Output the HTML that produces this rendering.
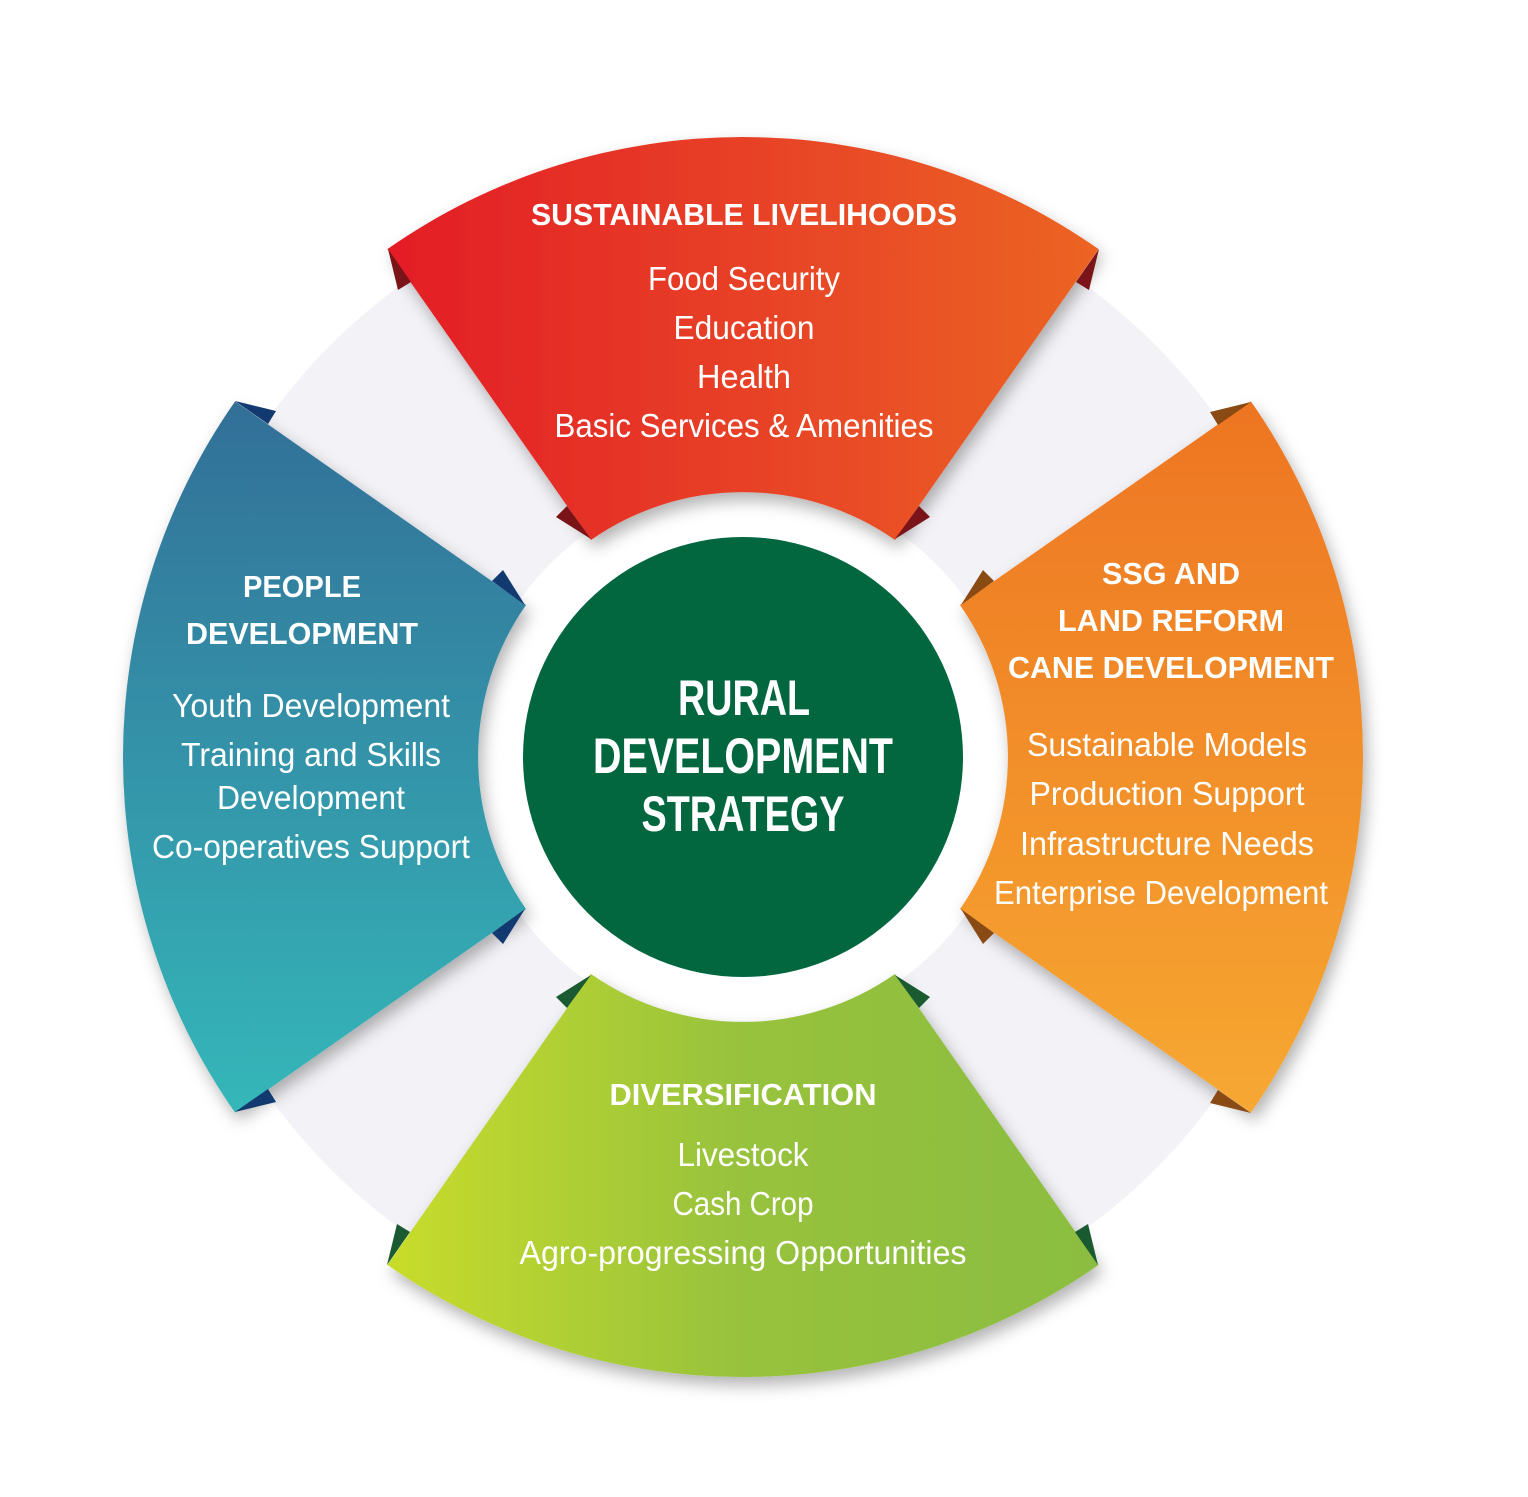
<!DOCTYPE html>
<html><head><meta charset="utf-8"><style>
html,body{margin:0;padding:0;background:#fff;}
svg{display:block;}
text{font-family:"Liberation Sans Narrow","Liberation Sans",sans-serif;fill:#fff;text-anchor:middle;}
.t{font-weight:bold;font-size:31px;}
.i{font-size:33px;}
.c{font-weight:bold;font-size:50px;}
</style></head><body>
<svg width="1528" height="1497" viewBox="0 0 1528 1497" xmlns="http://www.w3.org/2000/svg">
<defs>
<linearGradient id="gt" x1="0" y1="0" x2="1" y2="0"><stop offset="0" stop-color="#e31d27"/><stop offset="1" stop-color="#ec6424"/></linearGradient>
<linearGradient id="gr" x1="0" y1="0" x2="0" y2="1"><stop offset="0" stop-color="#ee7523"/><stop offset="1" stop-color="#f6a831"/></linearGradient>
<linearGradient id="gb" x1="0" y1="0" x2="1" y2="0"><stop offset="0" stop-color="#c8dc2b"/><stop offset="0.5" stop-color="#97c23d"/><stop offset="1" stop-color="#8bbd40"/></linearGradient>
<linearGradient id="gl" x1="0" y1="0" x2="0" y2="1"><stop offset="0" stop-color="#336f98"/><stop offset="1" stop-color="#34b7b9"/></linearGradient>
<filter id="sh" x="-20%" y="-20%" width="140%" height="140%"><feDropShadow dx="4" dy="8" stdDeviation="8" flood-color="#000" flood-opacity="0.3"/></filter>
<g id="fold">
<polygon points="388,249 398,290 411,282"/>
<polygon points="1099,249 1089,290 1076,282"/>
<polygon points="591,539 556,517 567,506"/>
<polygon points="895,539 930,517 919,506"/>
</g>
</defs>
<circle cx="743" cy="757" r="428" fill="none" stroke="#f3f3f7" stroke-width="310"/>
<g filter="url(#sh)">
<path d="M387.4,249.1 A620 620 0 0 1 1098.6,249.1 L895,540 A265 265 0 0 0 591,540 Z" fill="url(#gt)"/>
<path d="M1250.9,401.4 A620 620 0 0 1 1250.9,1112.6 L960,909 A265 265 0 0 0 960,605 Z" fill="url(#gr)"/>
<path d="M1098.6,1264.9 A620 620 0 0 1 387.4,1264.9 L591,974 A265 265 0 0 0 895,974 Z" fill="url(#gb)"/>
<path d="M235.1,1112.6 A620 620 0 0 1 235.1,401.4 L526,605 A265 265 0 0 0 526,909 Z" fill="url(#gl)"/>
</g>
<use href="#fold" fill="#7a1418"/>
<use href="#fold" fill="#8a4a14" transform="rotate(90 743 757)"/>
<use href="#fold" fill="#1a5a30" transform="rotate(180 743 757)"/>
<use href="#fold" fill="#123a70" transform="rotate(270 743 757)"/>
<circle cx="743" cy="757" r="220" fill="#02673f"/>

<text class="t" x="744" y="225" textLength="426" lengthAdjust="spacingAndGlyphs">SUSTAINABLE LIVELIHOODS</text>
<text class="i" x="744" y="290" textLength="192" lengthAdjust="spacingAndGlyphs">Food Security</text>
<text class="i" x="744" y="339" textLength="141" lengthAdjust="spacingAndGlyphs">Education</text>
<text class="i" x="744" y="388" textLength="94" lengthAdjust="spacingAndGlyphs">Health</text>
<text class="i" x="744" y="437" textLength="379" lengthAdjust="spacingAndGlyphs">Basic Services &amp; Amenities</text>

<text class="t" x="302" y="597" textLength="118" lengthAdjust="spacingAndGlyphs">PEOPLE</text>
<text class="t" x="302" y="644" textLength="232" lengthAdjust="spacingAndGlyphs">DEVELOPMENT</text>
<text class="i" x="311" y="717" textLength="278" lengthAdjust="spacingAndGlyphs">Youth Development</text>
<text class="i" x="311" y="766" textLength="260" lengthAdjust="spacingAndGlyphs">Training and Skills</text>
<text class="i" x="311" y="809" textLength="188" lengthAdjust="spacingAndGlyphs">Development</text>
<text class="i" x="311" y="858" textLength="318" lengthAdjust="spacingAndGlyphs">Co-operatives Support</text>

<text class="t" x="1171" y="584" textLength="138" lengthAdjust="spacingAndGlyphs">SSG AND</text>
<text class="t" x="1171" y="631" textLength="226" lengthAdjust="spacingAndGlyphs">LAND REFORM</text>
<text class="t" x="1171" y="678" textLength="326" lengthAdjust="spacingAndGlyphs">CANE DEVELOPMENT</text>
<text class="i" x="1167" y="756" textLength="280" lengthAdjust="spacingAndGlyphs">Sustainable Models</text>
<text class="i" x="1167" y="805" textLength="275" lengthAdjust="spacingAndGlyphs">Production Support</text>
<text class="i" x="1167" y="855" textLength="294" lengthAdjust="spacingAndGlyphs">Infrastructure Needs</text>
<text class="i" x="1161" y="904" textLength="334" lengthAdjust="spacingAndGlyphs">Enterprise Development</text>

<text class="t" x="743" y="1105" textLength="267" lengthAdjust="spacingAndGlyphs">DIVERSIFICATION</text>
<text class="i" x="743" y="1166" textLength="131" lengthAdjust="spacingAndGlyphs">Livestock</text>
<text class="i" x="743" y="1215" textLength="141" lengthAdjust="spacingAndGlyphs">Cash Crop</text>
<text class="i" x="743" y="1264" textLength="447" lengthAdjust="spacingAndGlyphs">Agro-progressing Opportunities</text>

<text class="c" x="744" y="715" textLength="132" lengthAdjust="spacingAndGlyphs">RURAL</text>
<text class="c" x="743" y="773" textLength="300" lengthAdjust="spacingAndGlyphs">DEVELOPMENT</text>
<text class="c" x="743" y="831" textLength="203" lengthAdjust="spacingAndGlyphs">STRATEGY</text>
</svg>
</body></html>
